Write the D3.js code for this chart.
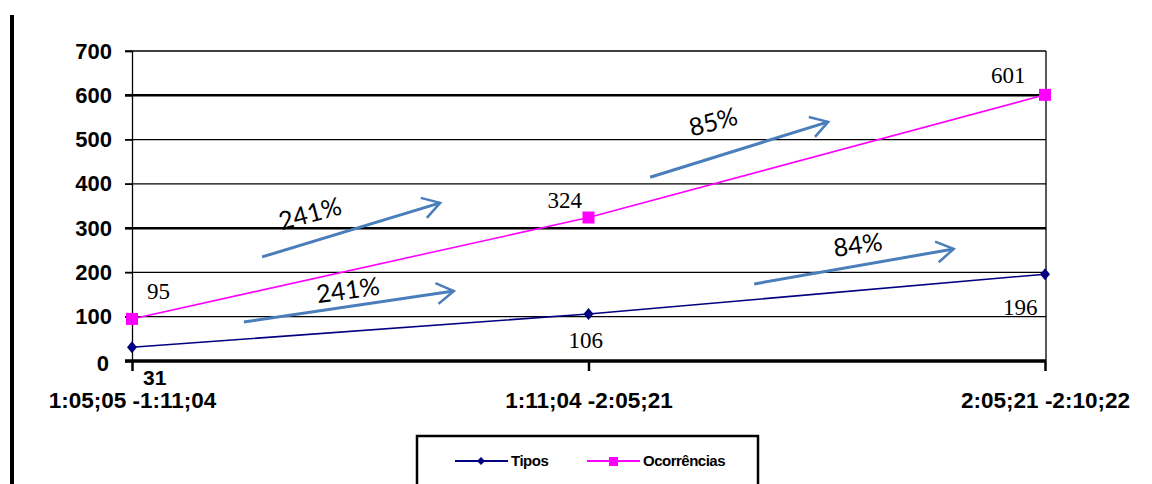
<!DOCTYPE html>
<html><head><meta charset="utf-8">
<script src="https://cdn.jsdelivr.net/npm/d3@7"></script>
<style>body{margin:0;background:#fff}svg{display:block}</style>
</head><body>
<script>
const categories = ["1:05;05 -1:11;04", "1:11;04 -2:05;21", "2:05;21 -2:10;22"];
const tipos = [31, 106, 196];
const ocorrencias = [95, 324, 601];
const yTicks = [0, 100, 200, 300, 400, 500, 600, 700];
const seriesNames = ["Tipos", "Ocorrências"];
// annotation arrows in data units: [x index, value]
const arrowStarts = [[0.285, 235], [0.245, 88], [1.135, 415], [1.363, 174]];
const arrowEnds = [[0.675, 357], [0.705, 158], [1.525, 540], [1.80, 253]];
const arrowLabels = ["241%", "241%", "85%", "84%"];
const arrowLabelPos = [[0.39, 333], [0.473, 160], [1.273, 540], [1.59, 262]];

const W = 1152, H = 484;
const svg = d3.select("body").append("svg").attr("width", W).attr("height", H);

const x = d3.scaleLinear().domain([0, 2]).range([132, 1045]);
const y = d3.scaleLinear().domain([0, 700]).range([361, 51]);
const sans = "Liberation Sans, Arial, sans-serif";

// left page bar
svg.append("line").attr("x1", 12).attr("x2", 12).attr("y1", 15).attr("y2", H)
  .attr("stroke", "#000").attr("stroke-width", 4);

// gridlines
const gw = {0: 0, 100: 1.3, 200: 1.3, 300: 2.5, 400: 1.3, 500: 1.3, 600: 2.5, 700: 1.3};
svg.append("g").selectAll("line").data(yTicks.filter(d => d > 0)).join("line")
  .attr("x1", 125).attr("x2", 1046).attr("y1", d => y(d)).attr("y2", d => y(d))
  .attr("stroke", "#000").attr("stroke-width", d => gw[d]);

// y axis
const yAxis = d3.axisLeft(y).tickValues(yTicks).tickSize(7).tickPadding(14);
const gy = svg.append("g").attr("transform", "translate(132,0)").call(yAxis);
gy.attr("font-size", 22).attr("font-family", sans);
gy.select(".domain").attr("stroke", "#000").attr("stroke-width", 1.3);
gy.selectAll(".tick line").attr("stroke-width", 1.3);
gy.selectAll("text").attr("font-weight", "bold").attr("fill", "#000").attr("dx", 1);
gy.selectAll(".tick").filter(d => d === 0).select("text").attr("dx", -2).attr("dy", "0.42em");

// right border
svg.append("line").attr("x1", 1046).attr("x2", 1046).attr("y1", 51).attr("y2", 361)
  .attr("stroke", "#000").attr("stroke-width", 1.3);

// x axis
const xAxis = d3.axisBottom(x).tickValues([0, 1, 2]).tickSize(10).tickFormat(i => categories[i]).tickPadding(21);
const gx = svg.append("g").attr("transform", "translate(0,361)").call(xAxis);
gx.attr("font-size", 22.5).attr("font-family", sans);
gx.select(".domain").attr("stroke", "#000").attr("stroke-width", 3.5).attr("d", "M125,0H1046");
gx.selectAll(".tick line").attr("stroke", "#000").attr("stroke-width", 2.5);
gx.selectAll("text").attr("font-weight", "bold").attr("fill", "#000");

// lines
const line = d3.line().x((d, i) => x(i)).y(d => y(d));
svg.append("path").datum(ocorrencias).attr("d", line).attr("fill", "none")
  .attr("stroke", "#ff00ff").attr("stroke-width", 1.6);
svg.append("path").datum(tipos).attr("d", line).attr("fill", "none")
  .attr("stroke", "#000080").attr("stroke-width", 1.6);

// markers
svg.append("g").selectAll("rect").data(ocorrencias).join("rect")
  .attr("x", (d, i) => x(i) - 6).attr("y", d => y(d) - 6).attr("width", 12).attr("height", 12)
  .attr("fill", "#ff00ff");
svg.append("g").selectAll("path").data(tipos).join("path")
  .attr("d", (d, i) => `M${x(i)},${y(d)-6}L${x(i)+5},${y(d)}L${x(i)},${y(d)+6}L${x(i)-5},${y(d)}Z`)
  .attr("fill", "#000080");

// data labels
const serif = "Liberation Serif, Times New Roman, serif";
const lbl = svg.append("g").attr("font-family", serif).attr("font-size", 23).attr("fill", "#000");
const ocOff = [[15, -20], [-41, -10], [-54, -12]];
const tiOff = [[11, 38], [-20, 34], [-42, 41]];
lbl.selectAll(".oc").data(ocorrencias).join("text").attr("class", "oc")
  .attr("x", (d, i) => x(i) + ocOff[i][0]).attr("y", (d, i) => y(d) + ocOff[i][1])
  .text(d => d);
lbl.selectAll(".ti").data(tipos).join("text").attr("class", "ti")
  .attr("x", (d, i) => x(i) + tiOff[i][0]).attr("y", (d, i) => y(d) + tiOff[i][1])
  .text(d => d)
  .each(function(d, i){
    if (i === 0) d3.select(this).attr("font-family", sans).attr("font-weight", "bold").attr("font-size", 21);
  });

// annotation arrows
const blue = "#4a7ebb";
const ag = svg.append("g");
arrowStarts.forEach((s, k) => {
  const e = arrowEnds[k];
  const x1 = x(s[0]), y1 = y(s[1]), x2 = x(e[0]), y2 = y(e[1]);
  const ang = Math.atan2(y2 - y1, x2 - x1);
  const L = 20, spread = 0.55;
  ag.append("line").attr("x1", x1).attr("y1", y1).attr("x2", x2).attr("y2", y2)
    .attr("stroke", blue).attr("stroke-width", 3);
  const h1 = [x2 - L * Math.cos(ang - spread), y2 - L * Math.sin(ang - spread)];
  const h2 = [x2 - L * Math.cos(ang + spread), y2 - L * Math.sin(ang + spread)];
  ag.append("path").attr("d", `M${h1[0]},${h1[1]}L${x2},${y2}L${h2[0]},${h2[1]}`)
    .attr("fill", "none").attr("stroke", blue).attr("stroke-width", 2.5);
  const p = arrowLabelPos[k];
  const rot = k % 2 === 0 ? -15 : -8;
  ag.append("text").attr("transform", `translate(${x(p[0])},${y(p[1])}) rotate(${rot})`)
    .attr("text-anchor", "middle").attr("dy", "0.35em")
    .attr("font-family", "Lato, Open Sans, sans-serif").attr("font-size", 25).attr("fill", "#000")
    .text(arrowLabels[k]);
});

// legend
const lg = svg.append("g");
lg.append("rect").attr("x", 417).attr("y", 436).attr("width", 341).attr("height", 60)
  .attr("fill", "#fff").attr("stroke", "#000").attr("stroke-width", 2.5);
const legX = [455, 587];
const legColors = ["#000080", "#ff00ff"];
seriesNames.forEach((n, i) => {
  const lx = legX[i], ly = 461;
  lg.append("line").attr("x1", lx).attr("x2", lx + 53).attr("y1", ly).attr("y2", ly)
    .attr("stroke", legColors[i]).attr("stroke-width", 2);
  if (i === 0) {
    lg.append("path").attr("d", `M${lx+26},${ly-4}L${lx+30},${ly}L${lx+26},${ly+4}L${lx+22},${ly}Z`).attr("fill", legColors[i]);
  } else {
    lg.append("rect").attr("x", lx + 22).attr("y", ly - 4).attr("width", 9).attr("height", 9).attr("fill", legColors[i]);
  }
  lg.append("text").attr("x", lx + 56).attr("y", ly).attr("dy", "0.35em")
    .attr("font-family", sans).attr("font-weight", "bold")
    .attr("font-size", 15).attr("letter-spacing", -0.5).attr("fill", "#000").text(n);
});
</script>
</body></html>
